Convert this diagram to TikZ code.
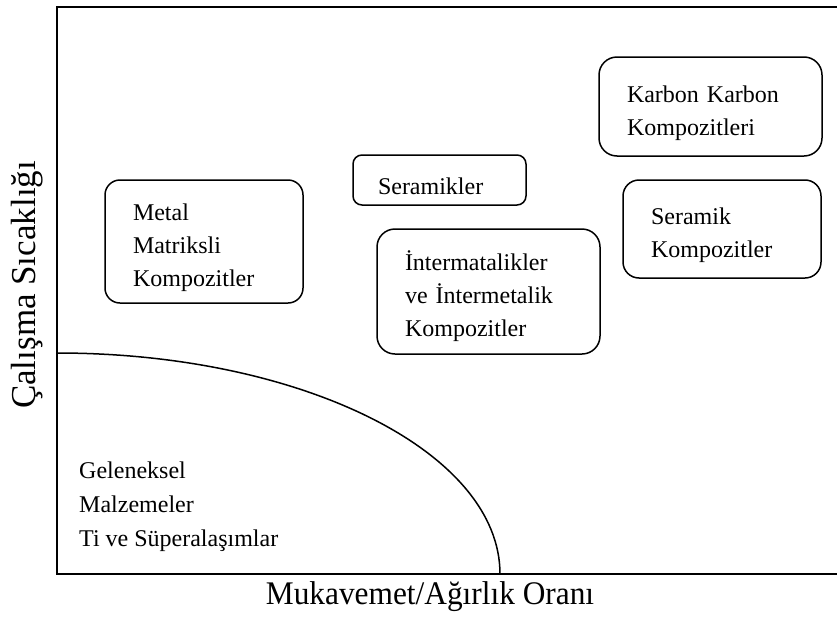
\documentclass[tikz,border=0pt]{standalone}
\usepackage{fontspec}
\setmainfont{Liberation Serif}
\newcommand\kutuyazi{\fontsize{24}{33}\selectfont}
\newcommand\eksenyazi{\fontsize{33}{38}\selectfont}
\tikzset{
  kutu/.style={draw, rounded corners=15pt, line width=1.5pt, inner xsep=28pt,
    inner ysep=0pt, align=left, font=\kutuyazi, text height=30pt},
  eksen/.style={font=\eksenyazi, inner sep=0pt}
}
\begin{document}
\begin{tikzpicture}[x=1pt, y=-1pt]
  \useasboundingbox (0,0) rectangle (837,621);
  % axes frame
  \draw[line width=2pt] (837,7) -- (57,7) -- (57,574) -- (837,574);
  % limit of conventional materials
  \draw[line width=1.5pt] (57,353) arc[start angle=-90, end angle=0, x radius=443, y radius=221];

  \node[kutu, minimum height=123pt, text width=142pt] (mmk) at (204,241.5) {Metal\\Matriksli\\Kompozitler};
  \node[kutu, rounded corners=9pt, inner xsep=25pt, minimum height=50pt, text width=123pt] (seramik) at (439.5,180) {Seramikler};
  \node[kutu, rounded corners=18pt, minimum height=125pt, text width=167pt] (intermetal) at (488.5,291.5) {İntermatalikler\\ve İntermetalik\\Kompozitler};
  \node[kutu, rounded corners=18pt, minimum height=99pt, text width=167pt] (karbon) at (710.5,106.5) {Karbon Karbon\\Kompozitleri};
  \node[kutu, rounded corners=16pt, minimum height=98pt, text width=142pt] (serkomp) at (722,229) {Seramik\\Kompozitler};

  \node[anchor=west, align=left, inner sep=0pt, font=\fontsize{24}{34}\selectfont] (geleneksel) at (79,507) {Geleneksel\\Malzemeler\\Ti ve Süperalaşımlar};

  \node[eksen, xscale=0.95] (xetiket) at (430,597) {Mukavemet/Ağırlık Oranı};
  \node[eksen, rotate=90, font=\fontsize{35}{40}\selectfont] (yetiket) at (27,285) {Çalışma Sıcaklığı};
\end{tikzpicture}
\end{document}
